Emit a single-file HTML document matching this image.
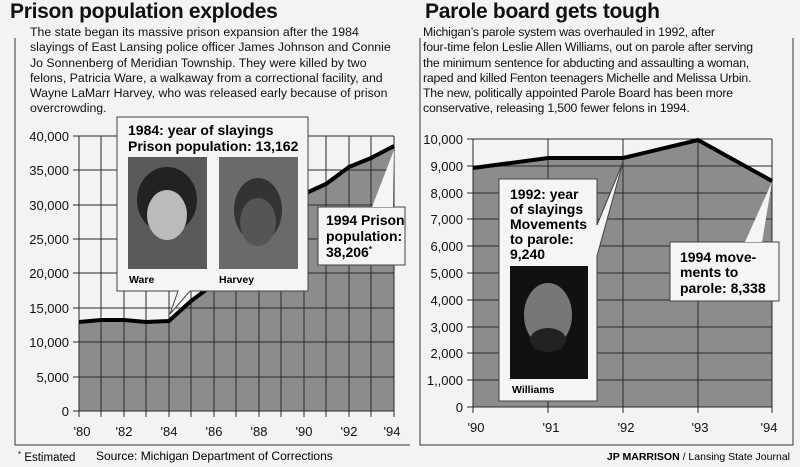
<!DOCTYPE html>
<html><head><meta charset="utf-8"><style>
body{margin:0;width:800px;height:467px;background:#f3f3f1;overflow:hidden;font-family:"Liberation Sans",sans-serif;color:#111}
h1{position:absolute;margin:0;font-size:21px;font-weight:bold;letter-spacing:-0.3px}
.p{position:absolute;font-size:12.3px;line-height:15.3px;white-space:nowrap}
</style></head><body>
<h1 style="left:10px;top:0px">Prison population explodes</h1>
<h1 style="left:425px;top:0px">Parole board gets tough</h1>
<div class="p" style="left:30px;top:25px">The state began its massive prison expansion after the 1984<br>slayings of East Lansing police officer James Johnson and Connie<br>Jo Sonnenberg of Meridian Township. They were killed by two<br>felons, Patricia Ware, a walkaway from a correctional facility, and<br>Wayne LaMarr Harvey, who was released early because of prison<br>overcrowding.</div>
<div class="p" style="left:423px;top:25px;letter-spacing:-0.2px">Michigan’s parole system was overhauled in 1992, after<br>four-time felon Leslie Allen Williams, out on parole after serving<br>the minimum sentence for abducting and assaulting a woman,<br>raped and killed Fenton teenagers Michelle and Melissa Urbin.<br>The new, politically appointed Parole Board has been more<br>conservative, releasing 1,500 fewer felons in 1994.</div>
<svg width="800" height="467" style="position:absolute;left:0;top:0" font-family="Liberation Sans, sans-serif">
<g stroke="#333" fill="none" stroke-width="1">
<path d="M15 38 V445 H410"/>
<path d="M420 38 V445 H793 V38"/>
</g>
<!-- left chart -->
<polygon points="79,411 79,322 101,320 124,320 146,322 169,321 191,301 214,284 236,260 259,232 281,212 304,194 326,184 349,167 371,158 394,148 394,411" fill="#8c8c8c"/>
<g stroke="#2a2a2a" stroke-width="1">
<path d="M79 136H394M79 170H394M79 205H394M79 239H394M79 273H394M79 308H394M79 342H394M79 377H394M79 411H394"/>
<path d="M79 136V417M101 136V417M124 136V417M146 136V417M169 136V417M191 136V417M214 136V417M236 136V417M259 136V417M281 136V417M304 136V417M326 136V417M349 136V417M371 136V417M394 136V417"/>
<path d="M73 136h6M73 170h6M73 205h6M73 239h6M73 273h6M73 308h6M73 342h6M73 377h6M73 411h6"/>
</g>
<polyline points="79,322 101,320 124,320 146,322 169,321 191,301 214,284 236,260 259,232 281,212 304,194 326,184 349,167 371,158 394,146" fill="none" stroke="#000" stroke-width="4"/>
<g font-size="13" text-anchor="end" fill="#111">
<text x="69" y="141">40,000</text><text x="69" y="175">35,000</text><text x="69" y="210">30,000</text><text x="69" y="244">25,000</text><text x="69" y="278">20,000</text><text x="69" y="313">15,000</text><text x="69" y="347">10,000</text><text x="69" y="382">5,000</text><text x="69" y="416">0</text>
</g>
<g font-size="13" text-anchor="middle" fill="#111">
<text x="82" y="436">'80</text><text x="124" y="436">'82</text><text x="169" y="436">'84</text><text x="214" y="436">'86</text><text x="259" y="436">'88</text><text x="304" y="436">'90</text><text x="349" y="436">'92</text><text x="392" y="436">'94</text>
</g>
<!-- callout 1984 -->
<polygon points="117,117 308,117 308,291 190,291 170,314 178,291 117,291" fill="#f5f5f3" stroke="#444"/>
<rect x="128" y="157" width="79" height="112" fill="#5a5a5a"/>
<rect x="219" y="157" width="79" height="112" fill="#6a6a6a"/>
<ellipse cx="167" cy="200" rx="30" ry="33" fill="#222"/><ellipse cx="167" cy="215" rx="20" ry="25" fill="#bbb"/>
<ellipse cx="258" cy="210" rx="24" ry="32" fill="#333"/><ellipse cx="258" cy="222" rx="18" ry="24" fill="#555"/>
<text x="128" y="135" font-size="14" font-weight="bold">1984: year of slayings</text>
<text x="128" y="151" font-size="14" font-weight="bold">Prison population: 13,162</text>
<text x="129" y="283" font-size="10.5" font-weight="bold">Ware</text>
<text x="219" y="283" font-size="10.5" font-weight="bold">Harvey</text>
<!-- callout 1994 -->
<polygon points="318,207 405,207 405,265 318,265" fill="#f5f5f3" stroke="#444"/>
<polygon points="372,207 394,150 393,207" fill="#f5f5f3"/>
<text x="326" y="225" font-size="14" font-weight="bold">1994 Prison</text>
<text x="326" y="241" font-size="14" font-weight="bold">population:</text>
<text x="326" y="257" font-size="14" font-weight="bold">38,206<tspan font-size="8" dy="-5">*</tspan></text>
<!-- right chart -->
<polygon points="473,407 473,168 548,159 623,159 698,139 772,181 772,407" fill="#8c8c8c"/>
<g stroke="#2a2a2a" stroke-width="1">
<path d="M473 139H772M473 166H772M473 193H772M473 219H772M473 246H772M473 273H772M473 300H772M473 327H772M473 353H772M473 380H772M473 407H772"/>
<path d="M473 139V413M548 139V413M623 139V413M698 139V413M772 139V413"/>
<path d="M467 139h6M467 166h6M467 193h6M467 219h6M467 246h6M467 273h6M467 300h6M467 327h6M467 353h6M467 380h6M467 407h6"/>
</g>
<polyline points="473,168 548,158 623,158 698,140 772,181" fill="none" stroke="#000" stroke-width="4"/>
<g font-size="13" text-anchor="end" fill="#111">
<text x="463" y="144">10,000</text><text x="463" y="171">9,000</text><text x="463" y="198">8,000</text><text x="463" y="224">7,000</text><text x="463" y="251">6,000</text><text x="463" y="278">5,000</text><text x="463" y="305">4,000</text><text x="463" y="332">3,000</text><text x="463" y="358">2,000</text><text x="463" y="385">1,,000</text><text x="463" y="412">0</text>
</g>
<g font-size="13" text-anchor="middle" fill="#111">
<text x="476" y="432">'90</text><text x="551" y="432">'91</text><text x="626" y="432">'92</text><text x="700" y="432">'93</text><text x="769" y="432">'94</text>
</g>
<polygon points="499,179 597,179 597,225 623,162 597,256 597,401 499,401" fill="#f5f5f3" stroke="#444"/>
<rect x="510" y="266" width="78" height="113" fill="#111"/>
<ellipse cx="548" cy="315" rx="24" ry="32" fill="#777"/><ellipse cx="548" cy="340" rx="18" ry="12" fill="#222"/>
<g font-size="14" font-weight="bold">
<text x="510" y="199">1992: year</text><text x="510" y="214">of slayings</text><text x="510" y="229">Movements</text><text x="510" y="244">to parole:</text><text x="510" y="259">9,240</text>
</g>
<text x="512" y="393" font-size="10.5" font-weight="bold">Williams</text>
<polygon points="670,242 779,242 779,301 670,301" fill="#f5f5f3" stroke="#444"/>
<polygon points="745,242 772,182 762,242" fill="#f5f5f3"/>
<g font-size="14" font-weight="bold"><text x="680" y="262">1994 move-</text><text x="680" y="277">ments to</text><text x="680" y="293">parole: 8,338</text></g>
<text x="18" y="461" font-size="11.5"><tspan font-size="8" dy="-4">*</tspan><tspan dy="4"> Estimated</tspan></text>
<text x="96" y="460" font-size="12">Source: Michigan Department of Corrections</text>
<text x="790" y="460" font-size="10.5" text-anchor="end"><tspan font-weight="bold">JP MARRISON</tspan> / Lansing State Journal</text>
</svg>
</body></html>
